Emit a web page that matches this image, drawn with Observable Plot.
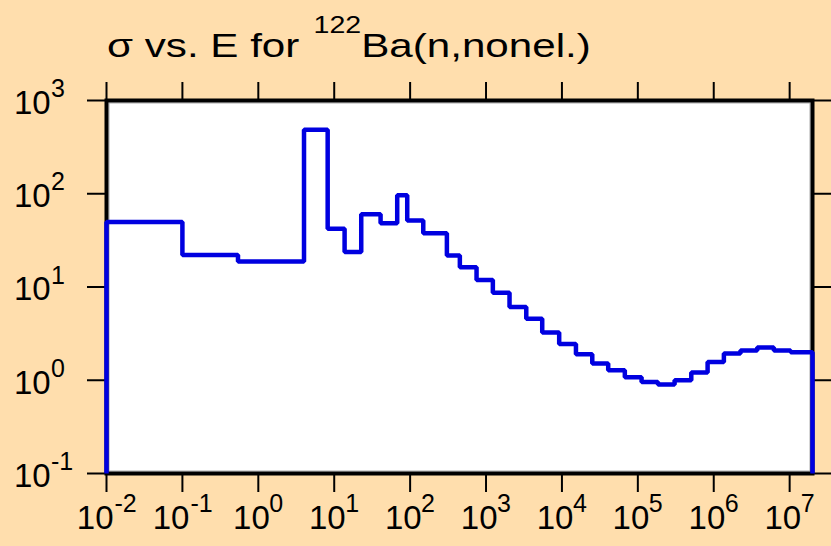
<!DOCTYPE html>
<html>
<head>
<meta charset="utf-8">
<script src="https://cdn.jsdelivr.net/npm/d3@7"></script>
<script src="https://cdn.jsdelivr.net/npm/@observablehq/plot@0.6"></script>
<style>
  html, body { margin: 0; padding: 0; background: #ffdead; }
  body { width: 831px; height: 546px; overflow: hidden; font-family: "Liberation Sans", Arial, sans-serif; }
  #title { position: relative; height: 70px; }
  #title span.t { position: absolute; left: 107px; top: 28px; font-size: 34px; line-height: 1; white-space: nowrap; transform: scaleX(1.24); transform-origin: left top; color: #000; }
  #title span.s { font-size: 23px; position: relative; top: -24px; margin-left: 2px; }
</style>
</head>
<body>
<div id="title"><span class="t">σ vs. E for <span class="s">122</span>Ba(n,nonel.)</span></div>
<div id="chart"></div>
<script>
// Group boundaries (eV) and cross sections (b)
const energyEdges = [0.01, 0.1, 0.54, 4.0, 8.2, 13.7, 22.7, 40.8, 67.6, 91.6,
  149, 305, 452, 750, 1230, 2040, 3390, 5500, 9200, 15300,
  25100, 40700, 67400, 112000, 184000, 305000, 506000, 830000, 1.36e6, 2.25e6,
  3.74e6, 6.19e6, 1.03e7, 2e7];
const crossSections = [49.7, 22.0, 18.8, 485, 42.2, 23.7, 60.4, 48.4, 96.6, 51.8,
  37.8, 21.8, 16.3, 11.9, 8.69, 6.09, 4.57, 3.26, 2.45, 1.90,
  1.51, 1.28, 1.08, 0.957, 0.898, 1.0, 1.21, 1.57, 1.93, 2.09,
  2.25, 2.09, 2.00];

// Axis decades
const xExponents = [-2, -1, 0, 1, 2, 3, 4, 5, 6, 7];
const yExponents = [-1, 0, 1, 2, 3];
const xDomain = [0.01, 2e7];
const yDomain = [0.1, 1000];

const xTickVals = xExponents.map(e => 10 ** e);
const yTickVals = yExponents.map(e => 10 ** e);

// histogram outline points
const floor = yDomain[0];
const steps = [{x: energyEdges[0], y: floor}];
crossSections.forEach((v, i) => {
  steps.push({x: energyEdges[i], y: v});
  steps.push({x: energyEdges[i + 1], y: v});
});
steps.push({x: energyEdges[energyEdges.length - 1], y: floor});

const xNeg = xExponents.filter(e => e < 0);
const xPos = xExponents.filter(e => e >= 0);
const font = "Liberation Sans, Arial, sans-serif";
const baseSize = 33, supSize = 25;

const chart = Plot.plot({
  width: 831,
  height: 476,
  marginLeft: 106,
  marginRight: 19,
  marginTop: 30,
  marginBottom: 73,
  style: {background: "transparent", fontFamily: font},
  x: {type: "log", domain: xDomain},
  y: {type: "log", domain: yDomain},
  marks: [
    Plot.frame({fill: "white", stroke: null}),
    Plot.axisX({anchor: "bottom", ticks: xTickVals, tickSize: 19, tickFormat: () => "", strokeWidth: 2, label: null}),
    Plot.axisX({anchor: "top", ticks: xTickVals, tickSize: 19, tickFormat: () => "", strokeWidth: 2, label: null}),
    Plot.axisY({anchor: "left", ticks: yTickVals, tickSize: 19, tickFormat: () => "", strokeWidth: 2, label: null}),
    Plot.axisY({anchor: "right", ticks: yTickVals, tickSize: 19, tickFormat: () => "", strokeWidth: 2, label: null}),
    Plot.frame({stroke: "#aaa", strokeWidth: 1, inset: 2.5}),
    Plot.frame({stroke: "black", strokeWidth: 4}),
    Plot.line(steps, {x: "x", y: "y", stroke: "#0000e0", strokeWidth: 4.5, strokeLinejoin: "miter", strokeLinecap: "butt"}),
    // x tick labels: "10" + superscript exponent
    Plot.text(xNeg, {x: e => 10 ** e, text: () => "10", frameAnchor: "bottom", lineAnchor: "bottom", textAnchor: "end", dx: 7, dy: 55, fontSize: baseSize, fill: "black"}),
    Plot.text(xNeg, {x: e => 10 ** e, text: e => String(e), frameAnchor: "bottom", lineAnchor: "bottom", textAnchor: "start", dx: 8, dy: 38.5, fontSize: supSize, fill: "black"}),
    Plot.text(xPos, {x: e => 10 ** e, text: () => "10", frameAnchor: "bottom", lineAnchor: "bottom", textAnchor: "end", dx: 11.5, dy: 55, fontSize: baseSize, fill: "black"}),
    Plot.text(xPos, {x: e => 10 ** e, text: e => String(e), frameAnchor: "bottom", lineAnchor: "bottom", textAnchor: "start", dx: 11, dy: 38.5, fontSize: supSize, fill: "black"}),
    // y tick labels
    Plot.text(yExponents, {y: e => 10 ** e, text: () => "10", frameAnchor: "left", lineAnchor: "bottom", textAnchor: "start", dx: -92.5, dy: 13.3, fontSize: baseSize, fill: "black"}),
    Plot.text(yExponents, {y: e => 10 ** e, text: e => String(e), frameAnchor: "left", lineAnchor: "bottom", textAnchor: "start", dx: -55.5, dy: -3.3, fontSize: supSize, fill: "black"})
  ]
});
document.getElementById("chart").appendChild(chart);
</script>
</body>
</html>
